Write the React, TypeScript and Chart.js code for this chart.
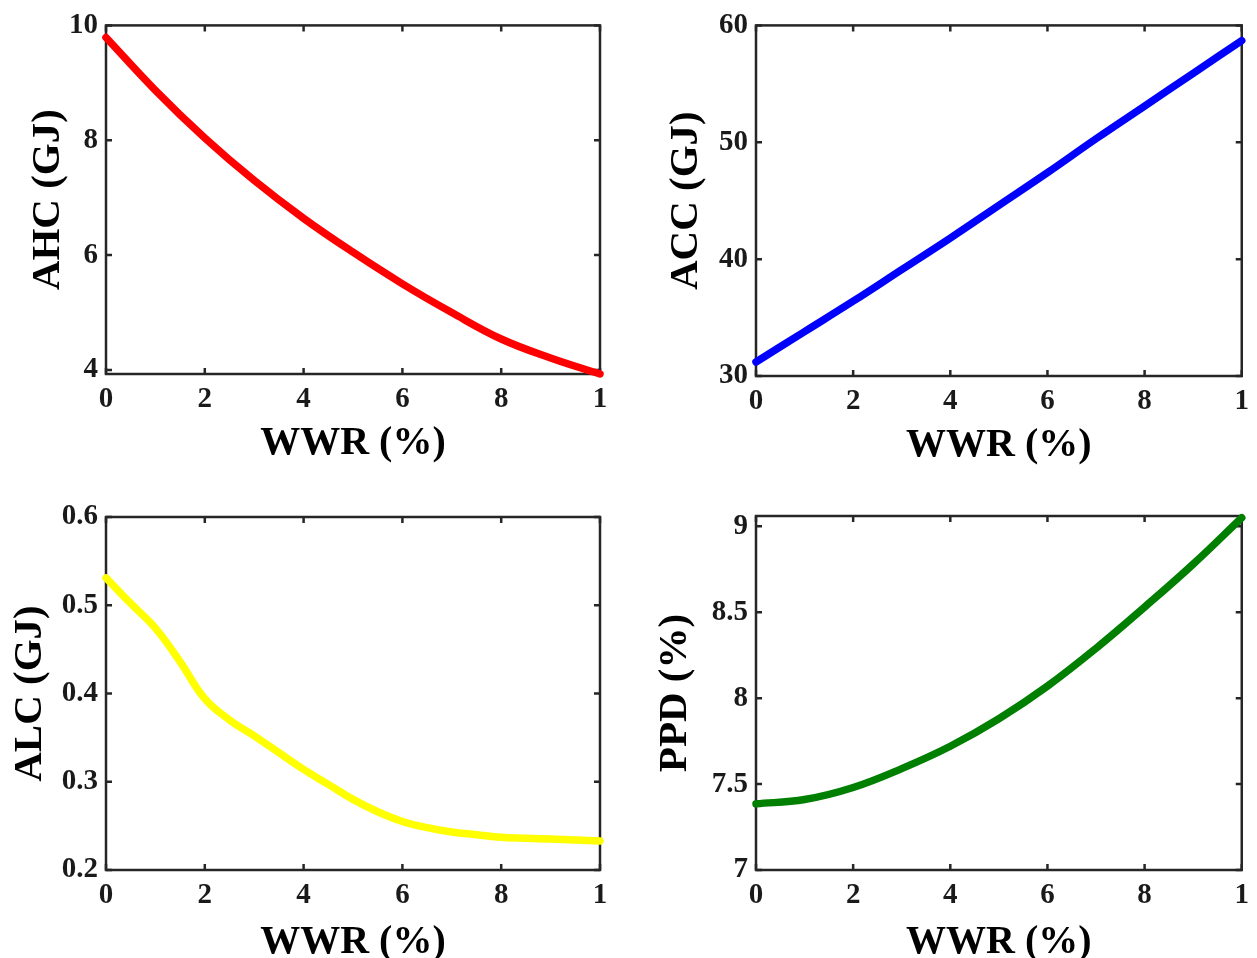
import React, { useEffect, useRef } from "react";
import { Chart, registerables } from "chart.js";

Chart.register(...registerables);

// ---- data ----
const wwr = [0, 0.1, 0.2, 0.3, 0.4, 0.5, 0.6, 0.7, 0.8, 0.9, 1.0];
const ahc = [9.79, 8.87, 8.04, 7.3, 6.64, 6.05, 5.5, 5.0, 4.54, 4.21, 3.93];
const acc = [31.2, 33.8, 36.4, 39.1, 41.8, 44.6, 47.4, 50.3, 53.1, 55.9, 58.7];
const ppd = [7.385, 7.41, 7.48, 7.59, 7.72, 7.88, 8.07, 8.29, 8.53, 8.78, 9.05];
const wwrAlc = [0, 0.05, 0.1, 0.15, 0.2, 0.25, 0.3, 0.35, 0.4, 0.45, 0.5, 0.55, 0.6, 0.65, 0.7, 0.75, 0.8, 0.85, 0.9, 0.95, 1.0];
const alc = [0.531, 0.502, 0.474, 0.436, 0.394, 0.37, 0.352, 0.333, 0.314, 0.297, 0.28, 0.266, 0.255, 0.248, 0.243, 0.24, 0.237, 0.236, 0.235, 0.234, 0.233];

const xTicks = [0, 0.2, 0.4, 0.6, 0.8, 1];
const xTickLabels = ["0", "2", "4", "6", "8", "1"];
const ahcTicks = [4, 6, 8, 10];
const accTicks = [30, 40, 50, 60];
const alcTicks = [0.2, 0.3, 0.4, 0.5, 0.6];
const ppdTicks = [7, 7.5, 8, 8.5, 9];

const xTitle = "WWR (%)";

const AXIS_COLOR = "#262626";
const FONT_FAMILY = "'Liberation Serif', 'Times New Roman', serif";

const boxPlugin = {
  id: "matlabBox",
  beforeDatasetsDraw(chart: any) {
    const { ctx, chartArea, scales } = chart;
    const { left, right, top, bottom } = chartArea;
    const x = scales.x;
    const y = scales.y;
    const L = 6;
    ctx.save();
    ctx.strokeStyle = AXIS_COLOR;
    ctx.lineWidth = 2.5;
    ctx.strokeRect(left, top, right - left, bottom - top);
    ctx.beginPath();
    x.ticks.forEach((t: any) => {
      const px = x.getPixelForValue(t.value);
      ctx.moveTo(px, bottom);
      ctx.lineTo(px, bottom - L);
      ctx.moveTo(px, top);
      ctx.lineTo(px, top + L);
    });
    y.ticks.forEach((t: any) => {
      const py = y.getPixelForValue(t.value);
      ctx.moveTo(left, py);
      ctx.lineTo(left + L, py);
      ctx.moveTo(right, py);
      ctx.lineTo(right - L, py);
    });
    ctx.stroke();
    ctx.restore();
  },
};

type PanelSpec = {
  box: [number, number, number, number]; // canvas left, top, width, height
  area: [number, number, number, number]; // plot left, top, right, bottom (page)
  xs: number[];
  ys: number[];
  color: string;
  yTitle: string;
  yMin: number;
  yMax: number;
  yTicks: number[];
  yTitleCenter: number; // page x
  xTitleCenter: number; // page y
};

const panels: PanelSpec[] = [
  {
    box: [0, 0, 628, 479],
    area: [106, 21, 600, 374],
    xs: wwr,
    ys: ahc,
    color: "#ff0000",
    yTitle: "AHC (GJ)",
    yMin: 3.93,
    yMax: 10,
    yTicks: ahcTicks,
    yTitleCenter: 48,
    xTitleCenter: 444,
  },
  {
    box: [628, 0, 629, 479],
    area: [756, 21, 1247, 376],
    xs: wwr,
    ys: acc,
    color: "#0000ff",
    yTitle: "ACC (GJ)",
    yMin: 30,
    yMax: 60,
    yTicks: accTicks,
    yTitleCenter: 686,
    xTitleCenter: 446,
  },
  {
    box: [0, 479, 628, 520],
    area: [106, 517, 600, 870],
    xs: wwrAlc,
    ys: alc,
    color: "#ffff00",
    yTitle: "ALC (GJ)",
    yMin: 0.2,
    yMax: 0.6,
    yTicks: alcTicks,
    yTitleCenter: 30,
    xTitleCenter: 943,
  },
  {
    box: [628, 479, 629, 520],
    area: [756, 516, 1247, 870],
    xs: wwr,
    ys: ppd,
    color: "#007f00",
    yTitle: "PPD (%)",
    yMin: 7,
    yMax: 9.06,
    yTicks: ppdTicks,
    yTitleCenter: 675,
    xTitleCenter: 943,
  },
];

function Panel({ spec }: { spec: PanelSpec }) {
  const ref = useRef<HTMLCanvasElement | null>(null);
  useEffect(() => {
    const canvas = ref.current;
    if (!canvas) return;
    const [bl, bt, bw, bh] = spec.box;
    const [al, at, ar, ab] = spec.area;
    const yAxisWidth = al - bl;
    const padTop = at - bt;
    const padRight = bl + bw - ar;
    const xAxisHeight = bt + bh - ab;
    const tickFont = { family: FONT_FAMILY, size: 29, weight: "bold" as const };
    const yTitleSize = 41;
    const xTitleSize = 40;
    const yTitlePad = spec.yTitleCenter - bl - yTitleSize / 2;
    const xTitlePad = bt + bh - spec.xTitleCenter - xTitleSize / 2;

    const chart = new Chart(canvas, {
      type: "line",
      data: {
        datasets: [
          {
            data: spec.xs.map((x, i) => ({ x, y: spec.ys[i] })),
            borderColor: spec.color,
            backgroundColor: spec.color,
            borderWidth: 7.5,
            pointRadius: 0,
            tension: 0.4,
            borderCapStyle: "round",
            borderJoinStyle: "round",
            clip: false as any,
          },
        ],
      },
      options: {
        animation: false,
        responsive: false,
        devicePixelRatio: 1,
        layout: { padding: { left: 0, top: padTop, right: padRight, bottom: 0 } },
        plugins: { legend: { display: false }, tooltip: { enabled: false } },
        scales: {
          x: {
            type: "linear",
            min: 0,
            max: 1,
            afterBuildTicks: (s: any) => {
              s.ticks = xTicks.map((v) => ({ value: v }));
            },
            afterFit: (s: any) => {
              s.height = xAxisHeight;
            },
            ticks: {
              autoSkip: false,
              maxRotation: 0,
              padding: 8,
              color: "#1a1a1a",
              font: tickFont,
              callback: (_v: any, i: number) => xTickLabels[i],
            },
            grid: { display: false, drawTicks: false },
            border: { display: false },
            title: {
              display: true,
              text: xTitle,
              color: "#000",
              font: { family: FONT_FAMILY, size: xTitleSize, weight: "bold", lineHeight: 1 },
              padding: { top: 0, bottom: xTitlePad },
            },
          },
          y: {
            type: "linear",
            min: spec.yMin,
            max: spec.yMax,
            afterBuildTicks: (s: any) => {
              s.ticks = spec.yTicks.map((v) => ({ value: v }));
            },
            afterFit: (s: any) => {
              s.width = yAxisWidth;
            },
            ticks: {
              autoSkip: false,
              padding: 8,
              color: "#1a1a1a",
              font: tickFont,
              callback: (v: any) => String(v),
            },
            grid: { display: false, drawTicks: false },
            border: { display: false },
            title: {
              display: true,
              text: spec.yTitle,
              color: "#000",
              font: { family: FONT_FAMILY, size: yTitleSize, weight: "bold", lineHeight: 1 },
              padding: { top: yTitlePad, bottom: 0 },
            },
          },
        },
      },
      plugins: [boxPlugin],
    } as any);
    return () => chart.destroy();
  }, [spec]);

  const [bl, bt, bw, bh] = spec.box;
  return (
    <div style={{ position: "absolute", left: bl, top: bt, width: bw, height: bh }}>
      <canvas ref={ref} width={bw} height={bh} />
    </div>
  );
}

export default function App() {
  return (
    <div
      style={{
        position: "absolute",
        left: 0,
        top: 0,
        width: 1257,
        height: 958,
        overflow: "hidden",
        background: "#ffffff",
      }}
    >
      {panels.map((p, i) => (
        <Panel key={i} spec={p} />
      ))}
    </div>
  );
}
